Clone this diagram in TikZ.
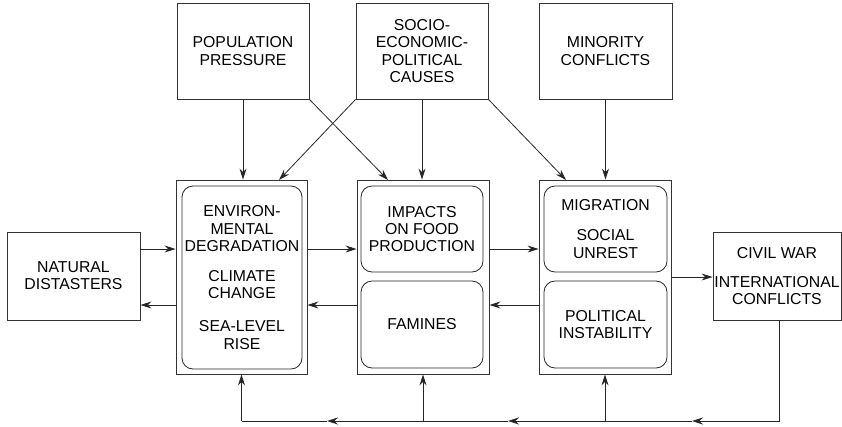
\documentclass[tikz,border=0pt]{standalone}
\usepackage{fontspec}
\setmainfont{Liberation Sans}
\usetikzlibrary{arrows.meta}
\begin{document}
\begin{tikzpicture}[x=1pt,y=-1pt,
  every node/.style={font=\fontsize{15.8}{17.2}\selectfont, align=center, inner sep=0pt},
  box/.style={draw=black!80, line width=0.9pt, rectangle},
  rbox/.style={draw=black!85, line width=0.8pt, rounded corners=11pt, rectangle},
  conn/.style={draw=black!85, line width=0.8pt},
  arr/.style={conn, -{Stealth[length=11pt,width=7pt]}}]
\useasboundingbox (0,0) rectangle (842,426);
% top boxes
\node[box, minimum width=132pt, minimum height=96pt] (pop) at (243,51) {POPULATION\\PRESSURE};
\node[box, minimum width=132pt, minimum height=96pt] (soc) at (422,51) {SOCIO-\\ECONOMIC-\\POLITICAL\\CAUSES};
\node[box, minimum width=133pt, minimum height=96pt] (min) at (605.5,51) {MINORITY\\CONFLICTS};
% side boxes
\node[box, minimum width=133pt, minimum height=88pt] (nat) at (73.5,276) {NATURAL\\DISTASTERS};
\node[box, minimum width=128pt, minimum height=88pt] (civ) at (777,276) {CIVIL WAR\\[12pt]INTERNATIONAL\\CONFLICTS};
% outer boxes
\node[box, minimum width=131pt, minimum height=194pt] (o1) at (241.5,277) {};
\node[box, minimum width=132pt, minimum height=194pt] (o2) at (423,277) {};
\node[box, minimum width=132pt, minimum height=194pt] (o3) at (605,277) {};
% inner boxes
\node[rbox, minimum width=120pt, minimum height=183pt] (i1) at (242,277.5) {ENVIRON-\\MENTAL\\DEGRADATION\\[13pt]CLIMATE\\CHANGE\\[16pt]SEA-LEVEL\\RISE};
\node[rbox, minimum width=122pt, minimum height=86pt] (i2a) at (422,229) {IMPACTS\\ON FOOD\\PRODUCTION};
\node[rbox, minimum width=122pt, minimum height=87pt] (i2b) at (422,324.5) {FAMINES};
\node[rbox, minimum width=123pt, minimum height=86pt] (i3a) at (605.5,229) {MIGRATION\\[13pt]SOCIAL\\UNREST};
\node[rbox, minimum width=123pt, minimum height=87pt] (i3b) at (605.5,324.5) {POLITICAL\\INSTABILITY};
% helper coordinates
\coordinate (yf) at (0,249);
\coordinate (yr) at (0,305);
\coordinate (yc) at (0,277);
\coordinate (yb) at (0,421);
\coordinate (m1) at (692,421);
\coordinate (m2) at (508,421);
\coordinate (m3) at (327,421);
\coordinate (t1) at (279,180);
\coordinate (t2) at (388,180);
\coordinate (t3) at (566,180);
% top arrows
\draw[arr] (pop.south) -- (pop.south |- o1.north);
\draw[arr] (pop.south east) -- (t2);
\draw[arr] (soc.south west) -- (t1);
\draw[arr] (soc.south) -- (soc.south |- o2.north);
\draw[arr] (soc.south east) -- (t3);
\draw[arr] (min.south) -- (min.south |- o3.north);
% horizontal arrows
\draw[arr] (nat.east |- yf) -- (o1.west |- yf);
\draw[arr] (o1.west |- yr) -- (nat.east |- yr);
\draw[arr] (o1.east |- yf) -- (o2.west |- yf);
\draw[arr] (o2.west |- yr) -- (o1.east |- yr);
\draw[arr] (o2.east |- yf) -- (o3.west |- yf);
\draw[arr] (o3.west |- yr) -- (o2.east |- yr);
\draw[arr] (o3.east |- yc) -- (civ.west |- yc);
% bottom feedback
\draw[arr] ([xshift=2pt]civ.south) |- (m1);
\draw[arr] (m1) -- (m2);
\draw[arr] (m2) -- (m3);
\draw[conn] (m3) -- (o1.south |- yb);
\draw[arr] (o1.south |- yb) -- (o1.south);
\draw[arr] (o2.south |- yb) -- (o2.south);
\draw[arr] (o3.south |- yb) -- (o3.south);
\end{tikzpicture}
\end{document}
